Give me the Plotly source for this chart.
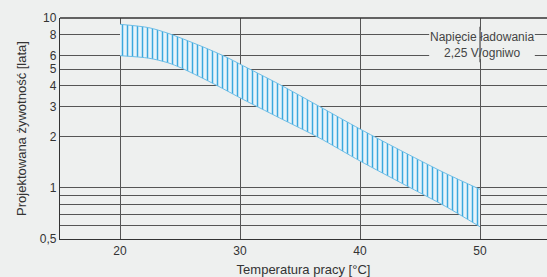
import plotly.graph_objects as go

temps_upper = [20, 22.4, 24, 25.7, 27.4, 29, 30, 33.3, 36.6, 40, 43.75, 47.1, 50]
upper = [9.18, 8.77, 8.13, 7.32, 6.54, 5.82, 5.35, 4.06, 3.02, 2.22, 1.61, 1.22, 0.98]
temps_lower = [20, 22.4, 24, 25.1, 27.4, 29, 30, 33.3, 36.6, 40, 43.75, 47.1, 50]
lower = [6.0, 5.8, 5.45, 5.08, 4.24, 3.7, 3.39, 2.58, 1.97, 1.44, 1.04, 0.78, 0.59]

y_tickvals = [0.5, 0.6, 0.7, 0.8, 0.9, 1, 2, 3, 4, 5, 6, 8, 10]
y_ticktext = ["0,5", "", "", "", "", "1", "2", "3", "4", "5", "6", "8", "10"]
x_tickvals = [20, 30, 40, 50]
x_ticktext = ["20", "30", "40", "50"]

bg = "#eef0ef"
grid = "#555555"
blue = "#3aa8de"

fig = go.Figure()
fig.add_trace(go.Scatter(x=temps_lower, y=lower, mode="lines",
                         line=dict(color="#6cbde6", width=1, shape="spline", smoothing=0.8),
                         hoverinfo="skip", showlegend=False))
fig.add_trace(go.Scatter(x=temps_upper, y=upper, mode="lines",
                         line=dict(color="#6cbde6", width=1, shape="spline", smoothing=0.8),
                         fill="tonexty", fillcolor="#e6f3f9",
                         fillpattern=dict(shape="|", size=5, solidity=0.3, fgcolor=blue,
                                          bgcolor="#e8f4fa", fgopacity=1),
                         hoverinfo="skip", showlegend=False))

fig.update_layout(
    width=547, height=277,
    margin=dict(l=60, r=0, t=18, b=38),
    paper_bgcolor=bg, plot_bgcolor=bg,
    font=dict(family="Liberation Sans, Arial, sans-serif", size=12, color="#333333"),
    xaxis=dict(range=[15, 55.58], tickvals=x_tickvals, ticktext=x_ticktext,
               showgrid=True, gridcolor=grid, gridwidth=1.3, zeroline=False, automargin=False,
               showline=True, linecolor="#333333", linewidth=1.3, ticks="",
               title=dict(text="Temperatura pracy [°C]", font=dict(size=13), standoff=8),
               tickfont=dict(size=12)),
    yaxis=dict(type="log", range=[-0.30103, 1.0], tickvals=y_tickvals, ticktext=y_ticktext,
               showgrid=True, gridcolor=grid, gridwidth=1.3, zeroline=False, automargin=False,
               showline=True, linecolor="#333333", linewidth=1.3, ticks="",
               title=dict(text="Projektowana żywotność [lata]", font=dict(size=13), standoff=10),
               tickfont=dict(size=12)),
    shapes=[
        dict(type="line", xref="paper", yref="paper", x0=0, x1=1, y0=1, y1=1,
             line=dict(color="#333333", width=1.3), layer="above"),
        dict(type="rect", xref="paper", yref="paper", x0=0.758, x1=0.975, y0=0.815, y1=0.945,
             fillcolor=bg, line=dict(width=0), layer="above"),
        dict(type="line", xref="x", yref="paper", x0=50, x1=50, y0=0.80, y1=0.96,
             line=dict(color=grid, width=1.3), layer="above"),
    ],
    annotations=[
        dict(text="Napięcie ładowania<br>2,25 V/ogniwo", xref="paper", yref="paper",
             x=0.8665, y=0.88, xanchor="center", yanchor="middle", showarrow=False,
             font=dict(size=12, color="#444444"), align="center"),
    ],
)

fig.write_html("out.html", config={"displayModeBar": False},
               post_script="document.body.style.margin='0';document.body.style.background='#eef0ef';")
